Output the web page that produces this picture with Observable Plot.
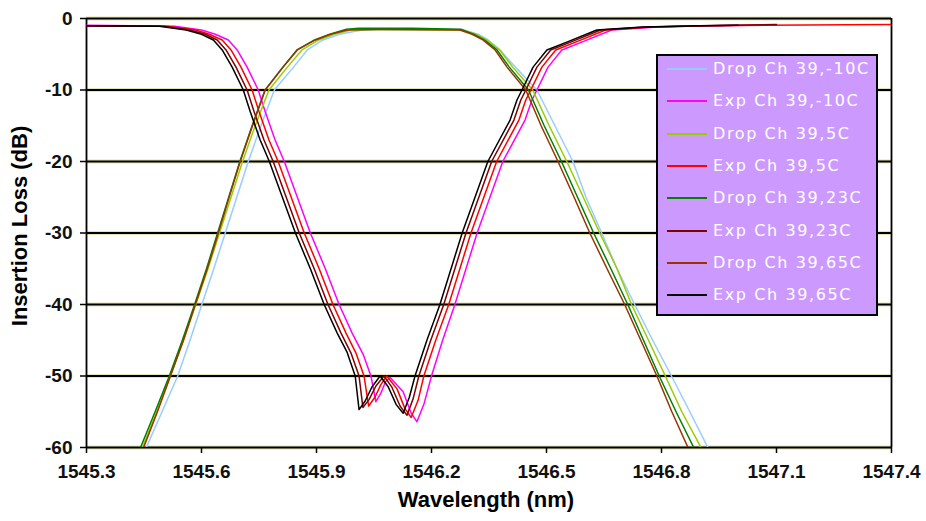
<!DOCTYPE html>
<html>
<head>
<meta charset="utf-8">
<script src="https://cdn.jsdelivr.net/npm/d3@7"></script>
<script src="https://cdn.jsdelivr.net/npm/@observablehq/plot@0.6"></script>
<style>
  body { margin: 0; background: #fff; }
  #wrap { position: relative; width: 926px; height: 521px; font-family: "Liberation Sans", Arial, sans-serif; overflow: hidden; }
  .atitle { position: absolute; font-weight: bold; font-size: 22px; line-height: 22px; color: #000; white-space: nowrap; text-align: center; }
  #xtitle { left: 336px; width: 300px; top: 489px; }
  #ytitle { left: -130px; width: 300px; top: 213px; height: 26px; line-height: 26px; transform: rotate(-90deg); transform-origin: 50% 50%; }
  #legend { position: absolute; left: 656px; top: 54px; width: 222px; height: 262px; box-sizing: border-box;
            background: #CC99FF; border: 2px solid #000; }
  .lrow { position: absolute; left: 0; height: 20px; width: 100%; }
  .lline { position: absolute; left: 9px; width: 40px; height: 2px; top: 9px; }
  .ltext { position: absolute; left: 55px; top: 0; line-height: 20px; font-family: "DejaVu Sans", sans-serif; font-size: 16px; letter-spacing: 1.6px; color: #fff; white-space: nowrap; }
</style>
</head>
<body>
<div id="wrap">
  <div id="chart"></div>
  <div id="xtitle" class="atitle">Wavelength (nm)</div>
  <div id="ytitle" class="atitle">Insertion Loss (dB)</div>
  <div id="legend"></div>
</div>
<script>
// Axis ticks
const xTicks = [1545.3, 1545.6, 1545.9, 1546.2, 1546.5, 1546.8, 1547.1, 1547.4];
const yTicks = [0, -10, -20, -30, -40, -50, -60];

// Series names and colors (legend order)
const seriesNames = [
  "Drop Ch 39,-10C", "Exp Ch 39,-10C",
  "Drop Ch 39,5C",   "Exp Ch 39,5C",
  "Drop Ch 39,23C",  "Exp Ch 39,23C",
  "Drop Ch 39,65C",  "Exp Ch 39,65C"
];
const seriesColors = ["#99CCFF", "#FF00FF", "#99CC00", "#FF0000", "#008000", "#800000", "#993300", "#000000"];

// [wavelength (nm), insertion loss (dB)]
const dropM10 = [[1545.450,-61],[1545.456,-60],[1545.497,-55],[1545.538,-50],[1545.570,-45],[1545.601,-40],[1545.632,-35],[1545.662,-30],[1545.692,-25],[1545.722,-20],[1545.755,-15],[1545.790,-10],[1545.840,-6.8],[1545.876,-4.4],[1545.917,-3.0],[1545.960,-2.2],[1546.019,-1.6],[1546.080,-1.5],[1546.280,-1.55],[1546.322,-2.2],[1546.348,-3.0],[1546.379,-4.4],[1546.419,-6.8],[1546.475,-10],[1546.522,-15],[1546.569,-20],[1546.603,-25],[1546.644,-30],[1546.684,-35],[1546.730,-40],[1546.777,-45],[1546.826,-50],[1546.874,-55],[1546.921,-60],[1546.926,-61]];
const expM10 = [[1545.300,-0.95],[1545.530,-1.1],[1545.600,-1.6],[1545.636,-2.2],[1545.670,-3.0],[1545.693,-4.4],[1545.719,-6.8],[1545.748,-10],[1545.766,-13],[1545.792,-17],[1545.816,-20],[1545.850,-25],[1545.884,-30],[1545.923,-35],[1545.959,-40],[1545.993,-44],[1546.022,-47],[1546.042,-50],[1546.055,-53.6],[1546.068,-52.4],[1546.080,-50.8],[1546.092,-50.2],[1546.126,-52.2],[1546.147,-55.2],[1546.162,-56.4],[1546.181,-53.8],[1546.200,-50],[1546.229,-45],[1546.261,-40],[1546.319,-30],[1546.386,-20],[1546.444,-14.2],[1546.462,-11.4],[1546.475,-10],[1546.504,-6.8],[1546.540,-4.4],[1546.592,-3.3],[1546.670,-1.6],[1546.790,-1.2],[1546.930,-1.0],[1547.100,-0.9]];
const drop5 = [[1545.438,-61],[1545.446,-60],[1545.483,-55],[1545.519,-50],[1545.553,-45],[1545.585,-40],[1545.617,-35],[1545.647,-30],[1545.677,-25],[1545.707,-20],[1545.740,-15],[1545.776,-10],[1545.824,-6.8],[1545.862,-4.4],[1545.906,-3.0],[1545.946,-2.2],[1545.990,-1.6],[1546.070,-1.5],[1546.280,-1.6],[1546.316,-2.2],[1546.344,-3.0],[1546.378,-4.4],[1546.412,-6.8],[1546.464,-10],[1546.507,-15],[1546.553,-20],[1546.596,-25],[1546.639,-30],[1546.684,-35],[1546.722,-40],[1546.766,-45],[1546.810,-50],[1546.853,-55],[1546.903,-60],[1546.908,-61]];
const exp5 = [[1545.300,-1.05],[1545.510,-1.1],[1545.585,-1.6],[1545.620,-2.2],[1545.654,-3.0],[1545.677,-4.4],[1545.703,-6.8],[1545.732,-10],[1545.750,-13],[1545.776,-17],[1545.800,-20],[1545.834,-25],[1545.868,-30],[1545.907,-35],[1545.943,-40],[1545.977,-44],[1546.003,-46.8],[1546.024,-50],[1546.036,-54.2],[1546.052,-53.0],[1546.068,-51.2],[1546.083,-50.0],[1546.110,-51.8],[1546.131,-54.6],[1546.147,-55.8],[1546.165,-53.4],[1546.180,-50],[1546.211,-45],[1546.245,-40],[1546.303,-30],[1546.370,-20],[1546.428,-14.2],[1546.446,-11.4],[1546.459,-10],[1546.488,-6.8],[1546.524,-4.4],[1546.576,-3.3],[1546.654,-1.6],[1546.774,-1.2],[1546.920,-1.0],[1547.400,-0.85]];
const drop23 = [[1545.433,-61],[1545.441,-60],[1545.479,-55],[1545.516,-50],[1545.550,-45],[1545.582,-40],[1545.613,-35],[1545.642,-30],[1545.671,-25],[1545.700,-20],[1545.732,-15],[1545.766,-10],[1545.812,-6.8],[1545.849,-4.4],[1545.895,-3.0],[1545.935,-2.2],[1545.978,-1.5],[1546.010,-1.35],[1546.150,-1.35],[1546.276,-1.5],[1546.310,-2.2],[1546.338,-3.0],[1546.371,-4.4],[1546.403,-6.8],[1546.453,-10],[1546.494,-15],[1546.539,-20],[1546.581,-25],[1546.623,-30],[1546.668,-35],[1546.712,-40],[1546.753,-45],[1546.794,-50],[1546.838,-55],[1546.884,-60],[1546.888,-61]];
const exp23 = [[1545.300,-1.0],[1545.500,-1.1],[1545.570,-1.6],[1545.610,-2.2],[1545.641,-3.0],[1545.664,-4.4],[1545.690,-6.8],[1545.719,-10],[1545.737,-13],[1545.763,-17],[1545.787,-20],[1545.821,-25],[1545.855,-30],[1545.894,-35],[1545.930,-40],[1545.964,-44],[1545.990,-46.8],[1546.011,-50],[1546.021,-54.4],[1546.037,-53.3],[1546.055,-51.4],[1546.076,-50.0],[1546.097,-51.6],[1546.118,-54.2],[1546.136,-55.5],[1546.152,-53.2],[1546.167,-50],[1546.198,-45],[1546.232,-40],[1546.290,-30],[1546.357,-20],[1546.415,-14.2],[1546.433,-11.4],[1546.446,-10],[1546.475,-6.8],[1546.511,-4.4],[1546.563,-3.3],[1546.641,-1.6],[1546.761,-1.2],[1546.910,-1.0],[1547.100,-0.85]];
const drop65 = [[1545.441,-61],[1545.449,-60],[1545.485,-55],[1545.519,-50],[1545.553,-45],[1545.584,-40],[1545.615,-35],[1545.644,-30],[1545.672,-25],[1545.701,-20],[1545.733,-15],[1545.766,-10],[1545.813,-6.8],[1545.850,-4.4],[1545.897,-3.0],[1545.936,-2.2],[1545.980,-1.6],[1546.066,-1.55],[1546.274,-1.6],[1546.306,-2.2],[1546.334,-3.0],[1546.366,-4.4],[1546.397,-6.8],[1546.446,-10],[1546.486,-15],[1546.530,-20],[1546.572,-25],[1546.613,-30],[1546.658,-35],[1546.704,-40],[1546.746,-45],[1546.788,-50],[1546.827,-55],[1546.869,-60],[1546.876,-61]];
const exp65 = [[1545.300,-1.0],[1545.490,-1.1],[1545.560,-1.6],[1545.600,-2.2],[1545.631,-3.0],[1545.654,-4.4],[1545.680,-6.8],[1545.709,-10],[1545.727,-13],[1545.753,-17],[1545.777,-20],[1545.811,-25],[1545.845,-30],[1545.884,-35],[1545.920,-40],[1545.954,-44],[1545.980,-46.7],[1546.001,-50],[1546.011,-54.7],[1546.027,-53.5],[1546.045,-51.5],[1546.066,-50.0],[1546.087,-51.5],[1546.108,-54],[1546.126,-55.2],[1546.142,-53],[1546.157,-50],[1546.188,-45],[1546.222,-40],[1546.280,-30],[1546.347,-20],[1546.405,-14.2],[1546.423,-11.4],[1546.436,-10],[1546.465,-6.8],[1546.501,-4.4],[1546.553,-3.3],[1546.631,-1.6],[1546.751,-1.2],[1546.900,-1.0],[1547.000,-0.95]];

const seriesData = [dropM10, expM10, drop5, exp5, drop23, exp23, drop65, exp65];

const lineMarks = seriesData.map((arr, i) =>
  Plot.line(arr, {x: d => d[0], y: d => d[1], stroke: seriesColors[i], strokeWidth: 1.5, clip: true})
);

const chart = Plot.plot({
  width: 926,
  height: 521,
  marginLeft: 86,
  marginRight: 35,
  marginTop: 18,
  marginBottom: 74,
  x: {domain: [1545.3, 1547.4]},
  y: {domain: [-60, 0]},
  style: {fontFamily: "'Liberation Sans', Arial, sans-serif", fontSize: "19px", fontWeight: "bold", background: "#fff", color: "#000", overflow: "visible"},
  marks: [
    Plot.ruleY(yTicks, {stroke: "#e4e4b4", strokeWidth: 4}),
    Plot.ruleY(yTicks, {stroke: "#000", strokeWidth: 1.8}),
    Plot.ruleX([xTicks[0], xTicks[xTicks.length - 1]], {stroke: "#000", strokeWidth: 1.8}),
    ...lineMarks,
    Plot.axisX(xTicks, {tickSize: 6, tickPadding: 11, fontSize: 19, tickFormat: d => d.toFixed(1), label: null, strokeWidth: 1.5, fill: "#111"}),
    Plot.axisY(yTicks, {tickSize: 6, tickPadding: 8, fontSize: 19, tickFormat: d => String(d), label: null, strokeWidth: 1.5, fill: "#111"})
  ]
});
document.getElementById("chart").appendChild(chart);

// Legend
const legend = document.getElementById("legend");
seriesNames.forEach((name, i) => {
  const row = document.createElement("div");
  row.className = "lrow";
  row.style.top = (3 + i * 32.3) + "px";
  const ln = document.createElement("div");
  ln.className = "lline";
  ln.style.background = seriesColors[i];
  const tx = document.createElement("div");
  tx.className = "ltext";
  tx.textContent = name;
  row.appendChild(ln);
  row.appendChild(tx);
  legend.appendChild(row);
});
</script>
</body>
</html>
